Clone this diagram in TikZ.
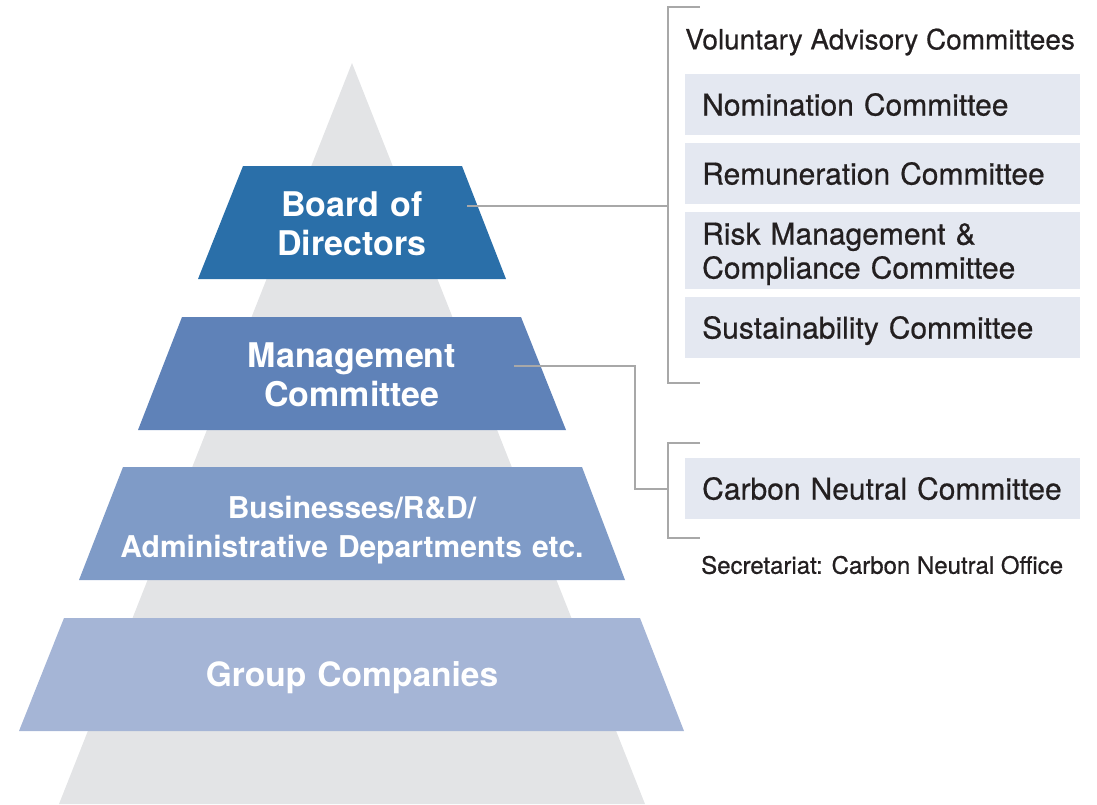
\documentclass[tikz,border=0pt]{standalone}
\usepackage{fontspec}
\setmainfont{TeX Gyre Heros}
\newfontfamily\mediumsans[FakeBold=0.6]{TeX Gyre Heros}
\definecolor{pyrgrey}{HTML}{E3E4E6}
\definecolor{bodblue}{HTML}{2A6FA9}
\definecolor{mgmtblue}{HTML}{5F82B8}
\definecolor{bizblue}{HTML}{7F9BC7}
\definecolor{grpblue}{HTML}{A5B5D6}
\definecolor{boxfill}{HTML}{E4E8F1}
\definecolor{linkgrey}{HTML}{A8A8A8}
\definecolor{ink}{HTML}{231F20}
\begin{document}
\begin{tikzpicture}[x=1pt,y=-1pt,
  tiertext/.style={text=white, text width=600pt, align=center, inner sep=0pt,
    font=\bfseries\fontsize{#1}{39}\selectfont, text height=0.72*#1 pt, text depth=39pt},
  tiertext/.default=34,
  committee/.style={fill=boxfill, text=ink, anchor=north west, minimum width=395pt,
    minimum height=61pt, text width=361pt, inner xsep=17pt, inner ysep=0pt, align=left,
    font=\mediumsans\fontsize{30}{34}\selectfont, text height=21.6pt, text depth=0pt},
  label/.style={text=ink, anchor=west, inner sep=0pt},
  link/.style={draw=linkgrey, line width=1.4pt}]
\useasboundingbox (0,0) rectangle (1097,804);

% background pyramid
\fill[pyrgrey] (352,63) -- (645,804) -- (59,804) -- cycle;

% the four tiers
\fill[bodblue]  (243,166) -- (462,166) -- (506,279) -- (198,279) -- cycle;
\fill[mgmtblue] (182,317) -- (521,317) -- (566,430) -- (138,430) -- cycle;
\fill[bizblue]  (123,467) -- (582,467) -- (625,580) -- (79,580) -- cycle;
\fill[grpblue]  (64,618)  -- (640,618) -- (684,731) -- (19,731) -- cycle;

\node[tiertext=34] (bod) at (352,224) {Board of\\Directors};
\node[tiertext=34] (mgmt) at (352,375) {Management\\Committee};
\node[tiertext=30, text depth=41pt] (biz) at (352,528) {Businesses/R\&D/\\Administrative Departments etc.};
\node[tiertext=33.5, text depth=0pt] (grp) at (352,674) {Group Companies};

% advisory committees
\node[label, font=\mediumsans\fontsize{28}{34}\selectfont] (vac) at (685,42) {Voluntary Advisory Committees};
\node[committee] (nom)  at (685,74)  {Nomination Committee};
\node[committee] (rem)  at (685,143) {Remuneration Committee};
\node[committee, minimum height=77pt, text depth=34pt] (risk) at (685,212) {Risk Management \&\\Compliance Committee};
\node[committee] (sus)  at (685,297) {Sustainability Committee};
\node[committee] (cnc)  at (685,458) {Carbon Neutral Committee};
\node[label, font=\mediumsans\fontsize{24}{28}\selectfont] (sec) at (701,565) {Secretariat: Carbon Neutral Office};

% brackets
\coordinate (brkA-top) at (668,7);
\coordinate (brkA-bot) at (668,383);
\coordinate (brkB-top) at (668,443);
\coordinate (brkB-bot) at (668,538);
\draw[link] ([xshift=32pt]brkA-top) -- (brkA-top) -- (brkA-bot) -- ([xshift=32pt]brkA-bot);
\draw[link] ([xshift=32pt]brkB-top) -- (brkB-top) -- (brkB-bot) -- ([xshift=32pt]brkB-bot);

% connectors
\coordinate (bod-port) at (467,206);
\coordinate (mgmt-port) at (514,366);
\coordinate (mgmt-bend) at (635,489);
\draw[link] (bod-port) -- (bod-port -| brkA-top);
\draw[link] (mgmt-port) -| (mgmt-bend) -- (mgmt-bend -| brkB-top);
\end{tikzpicture}
\end{document}
